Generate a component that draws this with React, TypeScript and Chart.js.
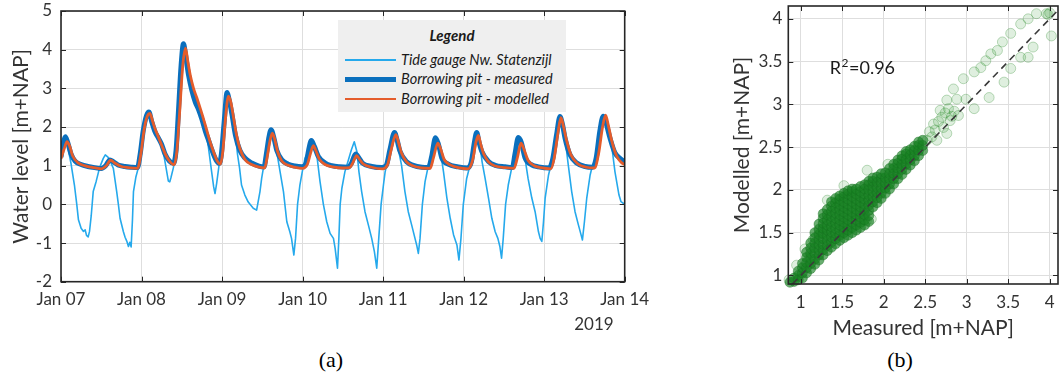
import React, { useEffect, useRef } from 'react';
import { Chart, registerables } from 'chart.js';

Chart.register(...registerables);

// ---------- Data: time series (hours since Jan 07 00:00, level m+NAP) ----------
const dayLabels = ['Jan 07', 'Jan 08', 'Jan 09', 'Jan 10', 'Jan 11', 'Jan 12', 'Jan 13', 'Jan 14'];
const yearLabel = '2019';
const seriesNames = ['Tide gauge Nw. Statenzijl', 'Borrowing pit - measured', 'Borrowing pit - modelled'];
const seriesColors = ['#25a9ec', '#0a6fbd', '#e45c2b'];
const seriesWidths = [1.6, 5, 2.8];

const tideGauge: [number, number][] = [
  [0, 1.22], [0.7, 1.6], [1.2, 1.75], [2, 1.5], [3, 1.05], [4, 0.5], [4.7, 0.0], [5.2, -0.4], [6, -0.62], [6.7, -0.7],
  [7.2, -0.66], [7.6, -0.8], [8.1, -0.84], [8.5, -0.7], [9, -0.3], [9.6, 0.33], [10.5, 0.6], [11.5, 0.95], [12.6, 1.19],
  [13.2, 1.28], [14, 1.22], [15, 1.05], [15.6, 0.93], [16.6, 0.33], [17.1, 0.0], [17.6, -0.36], [18.6, -0.71], [19.1, -0.85],
  [19.6, -0.95], [20.1, -1.09], [20.5, -0.98], [20.9, -1.1], [21.3, -0.4], [21.6, 0.33], [22.3, 0.7], [23, 0.93], [23.6, 1.3],
  [24.5, 1.9], [25.5, 2.3], [26.2, 2.39], [27, 2.15], [28, 1.88], [29, 1.72], [30, 1.5], [30.6, 1.3], [31.2, 1.0], [32, 0.6],
  [32.4, 0.58], [32.8, 0.7], [33.5, 0.95], [34.3, 1.4], [35, 2.4], [35.8, 3.6], [36.5, 4.15], [37.3, 3.75], [38, 3.35],
  [39, 2.95], [40, 2.65], [41, 2.45], [42, 2.2], [43, 1.9], [43.9, 1.5], [44.9, 0.84], [45.5, 0.45], [45.9, 0.28], [46.4, 0.55],
  [47.1, 1.01], [47.8, 1.3], [48.6, 2.1], [49.5, 2.89], [50, 2.75], [51, 2.3], [52, 1.78], [52.6, 1.3], [53.2, 0.95], [53.8, 0.5],
  [54.8, 0.24], [55.8, 0.06], [57.3, -0.1], [58.3, -0.15], [59.3, 0.33], [59.8, 0.67], [60.3, 0.93], [61.2, 1.3], [62, 1.75],
  [62.6, 1.93], [63.5, 1.7], [64.3, 1.36], [65.3, 0.84], [66.3, 0.33], [67.3, -0.45], [68.2, -0.71], [68.7, -0.88], [69.4, -1.31],
  [69.9, -0.88], [70.5, 0.0], [71.2, 0.5], [71.9, 0.84], [72.7, 1.19], [73.8, 1.4], [74.6, 1.65], [75.5, 1.5], [76.2, 1.3],
  [77.2, 0.59], [78.2, 0.0], [79.2, -0.45], [80.2, -0.75], [81.2, -0.88], [81.7, -1.14], [82.4, -1.65], [82.8, -0.9], [83.2, 0.0],
  [83.7, 0.41], [84.6, 0.84], [85.5, 1.1], [86.5, 1.4], [87.4, 1.62], [88.2, 1.36], [88.8, 0.84], [89.6, 0.33], [90.6, -0.19],
  [91.6, -0.53], [92.6, -0.88], [93.4, -1.22], [94.1, -1.65], [94.7, -0.88], [95.4, 0.0], [96.1, 0.5], [96.6, 0.84], [97.3, 1.1],
  [98, 1.4], [99.4, 1.86], [100.2, 1.6], [100.7, 1.36], [101.5, 1.01], [102.5, 0.33], [103.5, -0.19], [104.5, -0.53],
  [105.5, -0.88], [106, -1.05], [106.5, -1.27], [107, -0.88], [107.7, 0.0], [108.5, 0.59], [109.5, 1.01], [110.5, 1.25],
  [111.6, 1.72], [112.5, 1.55], [113.3, 1.25], [114, 0.84], [115, 0.17], [116, -0.36], [117, -0.79], [118, -1.05], [118.6, -1.44],
  [119.2, -0.88], [119.9, 0.0], [120.9, 0.67], [121.9, 1.01], [123.2, 1.6], [123.9, 1.86], [124.9, 1.5], [125.5, 1.1],
  [126.4, 0.67], [127.4, 0.17], [128.4, -0.36], [129.4, -0.71], [130.2, -0.88], [130.8, -1.09], [131.3, -1.39], [131.8, -0.88],
  [132.5, 0.0], [133.3, 0.5], [134.3, 0.93], [135.3, 1.3], [136.3, 1.73], [137.2, 1.6], [138.1, 1.3], [139.2, 0.67], [140.3, 0.17],
  [141.3, -0.19], [142.3, -0.71], [142.8, -0.88], [143.3, -0.96], [143.8, -0.45], [144.3, 0.17], [145.3, 0.76], [146, 1.01],
  [146.5, 1.15], [147.7, 1.8], [148.7, 2.27], [149.5, 2.05], [150.2, 1.72], [151.2, 1.01], [152.2, 0.33], [153.2, -0.19],
  [154.2, -0.53], [155, -0.79], [155.4, -0.92], [156, -0.45], [156.7, 0.17], [157.7, 0.76], [158.4, 1.01], [159.5, 1.2],
  [160.6, 1.9], [161.6, 2.28], [162.3, 2.15], [163.2, 1.85], [164.1, 1.53], [165.1, 0.84], [166.3, 0.24], [166.9, 0.07], [168, 0.0],
];

const pitMeasured: [number, number][] = [
  [0, 1.22], [0.7, 1.6], [1.3, 1.75], [2, 1.6], [3, 1.3], [4.2, 1.12], [6, 1.03], [8, 0.98], [10, 0.95], [12, 0.93],
  [13.3, 1.0], [14.6, 1.15], [15.6, 1.1], [17, 1.02], [19, 0.98], [21, 0.96], [22.8, 0.95], [23.6, 1.3], [24.5, 1.9],
  [25.5, 2.3], [26.2, 2.39], [27, 2.15], [28, 1.88], [29, 1.72], [30, 1.55], [31, 1.3], [32.3, 1.12], [33.5, 1.06],
  [34.3, 1.4], [35, 2.4], [35.8, 3.6], [36.5, 4.15], [37.3, 3.75], [38, 3.35], [39, 2.95], [40, 2.65], [41, 2.45],
  [42, 2.2], [43, 1.9], [44, 1.65], [45, 1.4], [46.2, 1.15], [47.2, 1.06], [47.8, 1.3], [48.6, 2.1], [49.5, 2.89],
  [50, 2.75], [51, 2.3], [52, 1.78], [53.3, 1.4], [54.8, 1.2], [56.8, 1.07], [59, 0.99], [60.5, 0.97], [61.2, 1.3],
  [62, 1.75], [62.6, 1.93], [63.5, 1.7], [64.3, 1.4], [65.8, 1.15], [67.7, 1.04], [69.7, 0.99], [71.7, 0.97], [73, 1.05],
  [73.8, 1.4], [74.6, 1.65], [75.5, 1.5], [76.7, 1.24], [78.7, 1.07], [80.7, 1.0], [83, 0.97], [85.5, 0.96], [86.5, 1.05],
  [87.8, 1.3], [88.8, 1.2], [89.8, 1.07], [92.6, 0.98], [95.6, 0.95], [97, 1.02], [98, 1.4], [99.4, 1.86], [100.2, 1.65],
  [101, 1.38], [103, 1.1], [105, 1.01], [107.5, 0.96], [109.5, 0.95], [110.5, 1.25], [111.6, 1.72], [112.5, 1.55],
  [113.5, 1.2], [115.4, 1.04], [118.4, 0.97], [121, 0.94], [122.3, 1.1], [123.2, 1.6], [123.9, 1.86], [124.6, 1.6],
  [125.4, 1.37], [127.4, 1.11], [129.4, 1.01], [132.3, 0.97], [134.5, 0.95], [135.3, 1.3], [136.3, 1.73], [137.2, 1.6],
  [138.3, 1.2], [140.3, 1.02], [142.3, 0.97], [145.5, 0.94], [146.5, 1.15], [147.7, 1.8], [148.7, 2.27], [149.5, 2.05],
  [150.2, 1.72], [151.7, 1.28], [153.7, 1.07], [156.2, 0.98], [158.5, 0.96], [159.5, 1.2], [160.6, 1.9], [161.6, 2.28],
  [162.3, 2.15], [163.6, 1.72], [165.1, 1.33], [166.6, 1.19], [168, 1.1],
];

const pitModelled: [number, number][] = [
  [0, 1.18], [1, 1.45], [1.8, 1.62], [2.6, 1.5], [3.5, 1.25], [5, 1.08], [7, 1.0], [9, 0.96], [12, 0.92], [13.5, 1.0],
  [14.8, 1.14], [16, 1.07], [18, 0.98], [20, 0.95], [22.8, 0.93], [23.8, 1.3], [24.8, 1.95], [25.8, 2.3], [26.5, 2.35],
  [27.3, 2.15], [28, 1.96], [29, 1.75], [30, 1.53], [31, 1.32], [32, 1.16], [33.7, 1.02], [34.5, 1.35], [35.3, 2.3],
  [36.3, 3.6], [37.1, 4.04], [37.8, 3.7], [38.5, 3.35], [39.5, 3.0], [40.5, 2.75], [41.5, 2.48], [42.5, 2.2], [43.5, 1.9],
  [44.5, 1.6], [45.5, 1.35], [46.5, 1.13], [47.5, 1.04], [48.2, 1.35], [49, 2.2], [49.9, 2.8], [50.6, 2.65], [51.5, 2.2],
  [52.3, 1.8], [53.3, 1.45], [54.8, 1.16], [56.8, 1.03], [59, 0.96], [60.7, 0.94], [61.5, 1.25], [62.3, 1.65], [63, 1.84],
  [63.8, 1.65], [64.5, 1.38], [65.8, 1.12], [67.7, 1.01], [69.7, 0.96], [72, 0.93], [73.5, 1.05], [74.3, 1.3], [75.2, 1.52],
  [76, 1.38], [77, 1.17], [78.7, 1.03], [81, 0.97], [84, 0.94], [86, 0.95], [87, 1.08], [88.1, 1.26], [89, 1.16], [90, 1.05],
  [92.6, 0.96], [95.8, 0.92], [97.3, 1.02], [98.5, 1.45], [99.8, 1.8], [100.6, 1.6], [101.4, 1.35], [103, 1.1], [105, 0.99],
  [107.5, 0.94], [110, 0.93], [111, 1.2], [112.3, 1.58], [113.2, 1.42], [114.2, 1.16], [116, 1.02], [118.4, 0.95],
  [121.3, 0.92], [122.7, 1.15], [123.7, 1.62], [124.4, 1.78], [125.1, 1.55], [126, 1.3], [127.4, 1.1], [129.4, 0.99],
  [132.3, 0.95], [135, 0.93], [136, 1.2], [137.1, 1.58], [138, 1.42], [139.2, 1.14], [141, 1.0], [143, 0.95], [146, 0.92],
  [147, 1.2], [148.2, 1.9], [149, 2.24], [149.8, 2.0], [150.6, 1.68], [152, 1.28], [154, 1.05], [156.5, 0.96], [159, 0.94],
  [160.2, 1.3], [161.4, 2.0], [162.3, 2.31], [163.1, 2.05], [164.2, 1.62], [165.6, 1.25], [167, 1.08], [168, 1.03],
];

// ---------- Data: scatter (measured, modelled) ----------
const scatterTicks = [1, 1.5, 2, 2.5, 3, 3.5, 4];
const oneToOne = [0.9, 4.12];
const rSquared = 0.96;

const scatterCore: [number, number][] = [
  [0.87, 0.92],
  [0.92, 0.93], [0.92, 0.97],
  [0.97, 0.95], [0.97, 1.0], [0.97, 1.05],
  [1.02, 0.97], [1.02, 1.03], [1.02, 1.09], [1.02, 1.14],
  [1.07, 1.03], [1.07, 1.09], [1.07, 1.15], [1.07, 1.21], [1.07, 1.27],
  [1.12, 1.08], [1.12, 1.14], [1.12, 1.2], [1.12, 1.26], [1.12, 1.32], [1.12, 1.38],
  [1.17, 1.13], [1.17, 1.19], [1.17, 1.26], [1.17, 1.32], [1.17, 1.38], [1.17, 1.44], [1.17, 1.5],
  [1.22, 1.18], [1.22, 1.24], [1.22, 1.3], [1.22, 1.36], [1.22, 1.42], [1.22, 1.48], [1.22, 1.54], [1.22, 1.6],
  [1.27, 1.24], [1.27, 1.3], [1.27, 1.36], [1.27, 1.43], [1.27, 1.49], [1.27, 1.55], [1.27, 1.61], [1.27, 1.67], [1.27, 1.72],
  [1.32, 1.29], [1.32, 1.35], [1.32, 1.41], [1.32, 1.47], [1.32, 1.53], [1.32, 1.59], [1.32, 1.65], [1.32, 1.71], [1.32, 1.77],
  [1.37, 1.33], [1.37, 1.39], [1.37, 1.45], [1.37, 1.51], [1.37, 1.57], [1.37, 1.63], [1.37, 1.69], [1.37, 1.75], [1.37, 1.81], [1.37, 1.86],
  [1.42, 1.37], [1.42, 1.43], [1.42, 1.49], [1.42, 1.55], [1.42, 1.61], [1.42, 1.67], [1.42, 1.73], [1.42, 1.79], [1.42, 1.85], [1.42, 1.9],
  [1.47, 1.41], [1.47, 1.47], [1.47, 1.53], [1.47, 1.59], [1.47, 1.65], [1.47, 1.71], [1.47, 1.77], [1.47, 1.83], [1.47, 1.89], [1.47, 1.93],
  [1.52, 1.44], [1.52, 1.5], [1.52, 1.56], [1.52, 1.62], [1.52, 1.68], [1.52, 1.74], [1.52, 1.8], [1.52, 1.86], [1.52, 1.92], [1.52, 1.96],
  [1.57, 1.47], [1.57, 1.53], [1.57, 1.59], [1.57, 1.65], [1.57, 1.71], [1.57, 1.77], [1.57, 1.83], [1.57, 1.89], [1.57, 1.95], [1.57, 1.99],
  [1.62, 1.5], [1.62, 1.56], [1.62, 1.62], [1.62, 1.68], [1.62, 1.74], [1.62, 1.8], [1.62, 1.86], [1.62, 1.92], [1.62, 1.98], [1.62, 2.01],
  [1.67, 1.53], [1.67, 1.59], [1.67, 1.65], [1.67, 1.71], [1.67, 1.77], [1.67, 1.83], [1.67, 1.89], [1.67, 1.95], [1.67, 2.01],
  [1.72, 1.56], [1.72, 1.62], [1.72, 1.68], [1.72, 1.74], [1.72, 1.8], [1.72, 1.86], [1.72, 1.92], [1.72, 1.98], [1.72, 2.04],
  [1.77, 1.59], [1.77, 1.65], [1.77, 1.71], [1.77, 1.77], [1.77, 1.83], [1.77, 1.89], [1.77, 1.95], [1.77, 2.01], [1.77, 2.06],
  [1.82, 1.63], [1.82, 1.7], [1.82, 1.76], [1.82, 1.82], [1.82, 1.88], [1.82, 1.94], [1.82, 2.0], [1.82, 2.06], [1.82, 2.1],
  [1.87, 1.8], [1.87, 1.86], [1.87, 1.92], [1.87, 1.98], [1.87, 2.04], [1.87, 2.1], [1.87, 2.14],
  [1.92, 1.85], [1.92, 1.91], [1.92, 1.97], [1.92, 2.03], [1.92, 2.09], [1.92, 2.15],
  [1.97, 1.9], [1.97, 1.96], [1.97, 2.02], [1.97, 2.08], [1.97, 2.14], [1.97, 2.19],
  [2.02, 1.96], [2.02, 2.02], [2.02, 2.08], [2.02, 2.14], [2.02, 2.2],
  [2.07, 2.01], [2.07, 2.07], [2.07, 2.13], [2.07, 2.19], [2.07, 2.25],
  [2.12, 2.07], [2.12, 2.13], [2.12, 2.19], [2.12, 2.25], [2.12, 2.3],
  [2.17, 2.13], [2.17, 2.19], [2.17, 2.25], [2.17, 2.31], [2.17, 2.35],
  [2.22, 2.18], [2.22, 2.24], [2.22, 2.3], [2.22, 2.36], [2.22, 2.4],
  [2.27, 2.24], [2.27, 2.3], [2.27, 2.36], [2.27, 2.42], [2.27, 2.45],
  [2.32, 2.29], [2.32, 2.35], [2.32, 2.41], [2.32, 2.47],
  [2.37, 2.34], [2.37, 2.4], [2.37, 2.46], [2.37, 2.51],
  [2.42, 2.4], [2.42, 2.46], [2.42, 2.52], [2.42, 2.56],
  [2.47, 2.46], [2.47, 2.52], [2.47, 2.58],
];

const scatterSparse: [number, number][] = [
  [2.52, 2.58], [2.55, 2.68], [2.58, 2.62], [2.6, 2.77], [2.62, 2.7], [2.64, 2.58], [2.66, 2.8], [2.68, 2.93],
  [2.7, 2.85], [2.72, 2.73], [2.74, 2.9], [2.76, 3.05], [2.76, 2.66], [2.78, 2.95], [2.8, 2.81], [2.82, 2.86],
  [2.84, 3.18], [2.85, 2.92], [2.88, 3.06], [2.9, 2.87], [2.96, 3.3], [2.99, 3.06], [3.09, 3.38], [3.09, 2.95],
  [3.17, 3.43], [3.23, 3.51], [3.27, 3.08], [3.29, 3.59], [3.37, 3.63], [3.43, 3.73], [3.45, 3.26], [3.53, 3.83],
  [3.53, 3.42], [3.65, 3.94], [3.65, 3.55], [3.74, 4.0], [3.74, 3.55], [3.8, 3.67], [3.84, 4.06], [3.96, 4.06],
  [3.98, 4.05], [4.0, 4.07], [4.02, 3.8],
  [1.8, 2.23], [1.32, 1.88], [1.52, 2.05], [1.05, 1.31], [1.79, 1.64], [1.1, 1.2], [0.95, 1.12], [1.25, 1.5],
  [1.85, 1.66], [2.05, 2.3], [1.15, 1.42], [0.86, 0.95],
];

// ---------- Styles ----------
const axisColor = '#262626';
const gridColor = '#dedede';
const textColor = '#333333';
const tickFont = { family: 'Lato', size: 17 };
const titleFont = { family: 'Lato', size: 21 };

Chart.defaults.font.family = 'Lato';
Chart.defaults.color = textColor;

const matlabBox = {
  id: 'matlabBox',
  afterDatasetsDraw(chart: any) {
    const { ctx, chartArea: a, scales } = chart;
    const L = 5;
    ctx.save();
    ctx.strokeStyle = axisColor;
    ctx.lineWidth = 1;
    scales.x.ticks.forEach((t: any) => {
      const px = Math.round(scales.x.getPixelForValue(t.value)) + 0.5;
      ctx.beginPath();
      ctx.moveTo(px, a.bottom); ctx.lineTo(px, a.bottom - L);
      ctx.moveTo(px, a.top); ctx.lineTo(px, a.top + L);
      ctx.stroke();
    });
    scales.y.ticks.forEach((t: any) => {
      const py = Math.round(scales.y.getPixelForValue(t.value)) + 0.5;
      ctx.beginPath();
      ctx.moveTo(a.left, py); ctx.lineTo(a.left + L, py);
      ctx.moveTo(a.right, py); ctx.lineTo(a.right - L, py);
      ctx.stroke();
    });
    ctx.lineWidth = 1.6;
    ctx.strokeRect(a.left, a.top, a.right - a.left, a.bottom - a.top);
    ctx.restore();
  },
};

const yearPlugin = {
  id: 'yearLabel',
  afterDraw(chart: any) {
    const { ctx, chartArea: a } = chart;
    ctx.save();
    ctx.font = `${tickFont.size}px Lato`;
    ctx.fillStyle = textColor;
    ctx.textAlign = 'right';
    ctx.textBaseline = 'alphabetic';
    ctx.fillText(yearLabel, a.right - 11, a.bottom + 48);
    ctx.restore();
  },
};

const r2Plugin = {
  id: 'r2Label',
  afterDraw(chart: any) {
    const { ctx, scales } = chart;
    const x = scales.x.getPixelForValue(1.35);
    const y = scales.y.getPixelForValue(3.36);
    ctx.save();
    ctx.fillStyle = '#1a1a1a';
    ctx.textBaseline = 'alphabetic';
    ctx.textAlign = 'left';
    ctx.font = '18px Lato';
    ctx.fillText('R', x, y);
    const w1 = ctx.measureText('R').width;
    ctx.font = '12px Lato';
    ctx.fillText('2', x + w1 + 0.5, y - 7);
    const w2 = ctx.measureText('2').width;
    ctx.font = '18px Lato';
    ctx.fillText('=' + rSquared.toFixed(2), x + w1 + w2 + 1, y);
    ctx.restore();
  },
};

function TimeSeriesChart() {
  const ref = useRef<HTMLCanvasElement>(null);
  useEffect(() => {
    const data = [tideGauge, pitMeasured, pitModelled];
    const chart = new Chart(ref.current!, {
      type: 'line',
      data: {
        datasets: data.map((d, i) => ({
          label: seriesNames[i],
          data: d.map(([x, y]) => ({ x, y })),
          borderColor: seriesColors[i],
          backgroundColor: seriesColors[i],
          borderWidth: seriesWidths[i],
          pointRadius: 0,
          order: 3 - i,
          cubicInterpolationMode: i === 0 ? 'default' : 'monotone',
          tension: i === 0 ? 0 : 0.4,
          borderJoinStyle: 'round',
        })),
      } as any,
      options: {
        animation: false,
        responsive: false,
        maintainAspectRatio: false,
        layout: { padding: { top: 11, right: 35.3, left: 0, bottom: 0 } },
        plugins: { legend: { display: false }, tooltip: { enabled: false } },
        scales: {
          x: {
            type: 'linear',
            min: 0,
            max: 168,
            ticks: {
              stepSize: 24,
              autoSkip: false,
              maxRotation: 0,
              padding: 8,
              font: tickFont,
              color: textColor,
              callback: (v: any) => dayLabels[Math.round(Number(v) / 24)],
            },
            grid: { color: gridColor, drawTicks: false },
            border: { display: false },
            afterFit: (s: any) => { s.height = 63.3; s.paddingLeft = 0; s.paddingRight = 0; },
          },
          y: {
            min: -2,
            max: 5,
            ticks: { stepSize: 1, padding: 9, font: tickFont, color: textColor },
            grid: { color: gridColor, drawTicks: false },
            border: { display: false },
            title: { display: true, text: 'Water level [m+NAP]', font: titleFont, color: textColor, padding: { top: 9, bottom: 0 } },
            afterFit: (s: any) => { s.width = 61; s.paddingTop = 0; s.paddingBottom = 0; },
          },
        },
      } as any,
      plugins: [matlabBox, yearPlugin],
    });
    return () => chart.destroy();
  }, []);
  return <canvas ref={ref} width={660} height={345} style={{ position: 'absolute', left: 0, top: 0, width: 660, height: 345 }} />;
}

function ScatterChart() {
  const ref = useRef<HTMLCanvasElement>(null);
  useEffect(() => {
    const chart = new Chart(ref.current!, {
      type: 'scatter',
      data: {
        datasets: [
          {
            type: 'line',
            label: '1:1',
            data: oneToOne.map((v) => ({ x: v, y: v })),
            borderColor: '#3a3a3a',
            borderWidth: 1.6,
            borderDash: [7, 5],
            pointRadius: 0,
            order: 0,
          },
          {
            label: 'Measured vs modelled',
            data: scatterCore.map(([x, y]) => ({ x, y })),
            backgroundColor: 'rgba(25,130,35,0.65)',
            borderColor: 'rgba(20,110,30,0.4)',
            borderWidth: 1,
            pointRadius: 5,
            clip: false,
            order: 1,
          },
          {
            label: 'Measured vs modelled (sparse)',
            data: scatterSparse.map(([x, y]) => ({ x, y })),
            backgroundColor: 'rgba(40,150,40,0.15)',
            borderColor: 'rgba(30,130,30,0.28)',
            borderWidth: 1,
            pointRadius: 5,
            clip: false,
            order: 2,
          },
        ],
      } as any,
      options: {
        animation: false,
        responsive: false,
        maintainAspectRatio: false,
        layout: { padding: { top: 6, right: 0, left: 0, bottom: 0 } },
        plugins: { legend: { display: false }, tooltip: { enabled: false } },
        scales: {
          x: {
            type: 'linear',
            min: 0.85,
            max: 4.1,
            afterBuildTicks: (s: any) => { s.ticks = scatterTicks.map((v) => ({ value: v })); },
            ticks: { padding: 8, font: tickFont, color: textColor, maxRotation: 0, autoSkip: false, callback: (v: any) => String(v) },
            grid: { color: gridColor, drawTicks: false },
            border: { display: false },
            title: { display: true, text: 'Measured [m+NAP]', font: titleFont, color: textColor, padding: { top: 0, bottom: 4 } },
            afterFit: (s: any) => { s.height = 61; s.paddingLeft = 0; s.paddingRight = 0; },
          },
          y: {
            min: 0.9,
            max: 4.15,
            afterBuildTicks: (s: any) => { s.ticks = scatterTicks.map((v) => ({ value: v })); },
            ticks: { padding: 6, font: tickFont, color: textColor, callback: (v: any) => String(v) },
            grid: { color: gridColor, drawTicks: false },
            border: { display: false },
            title: { display: true, text: 'Modelled [m+NAP]', font: titleFont, color: textColor, padding: { top: 10, bottom: 0 } },
            afterFit: (s: any) => { s.width = 68.3; s.paddingTop = 0; s.paddingBottom = 0; },
          },
        },
      } as any,
      plugins: [matlabBox, r2Plugin],
    });
    return () => chart.destroy();
  }, []);
  return <canvas ref={ref} width={344} height={345} style={{ position: 'absolute', left: 720, top: 0, width: 344, height: 345 }} />;
}

function Legend() {
  const rowTops = [40, 59, 79];
  return (
    <div style={{ position: 'absolute', left: 338, top: 20, width: 228, height: 92, background: '#efefef', fontFamily: 'Lato', color: '#1a1a1a' }}>
      <div style={{ position: 'absolute', left: 0, top: 6, width: '100%', textAlign: 'center', fontWeight: 'bold', fontStyle: 'italic', fontSize: 15, lineHeight: '18px' }}>
        Legend
      </div>
      {seriesNames.map((name, i) => (
        <div key={name}>
          <div style={{ position: 'absolute', left: 7, top: rowTops[i] - seriesWidths[i] / 2, width: 51, height: seriesWidths[i], background: seriesColors[i] }} />
          <div style={{ position: 'absolute', left: 63, top: rowTops[i] - 9, fontStyle: 'italic', fontSize: 14.5, lineHeight: '18px', whiteSpace: 'nowrap' }}>
            {name}
          </div>
        </div>
      ))}
    </div>
  );
}

export default function App() {
  return (
    <div style={{ position: 'fixed', left: 0, top: 0, width: 1062, height: 384, overflow: 'hidden', background: '#ffffff' }}>
      <TimeSeriesChart />
      <ScatterChart />
      <Legend />
      <div style={{ position: 'absolute', left: 281, width: 100, top: 349, textAlign: 'center', fontFamily: '"Liberation Serif", serif', fontSize: 22, lineHeight: '22px', color: '#000' }}>(a)</div>
      <div style={{ position: 'absolute', left: 850, width: 100, top: 349, textAlign: 'center', fontFamily: '"Liberation Serif", serif', fontSize: 22, lineHeight: '22px', color: '#000' }}>(b)</div>
    </div>
  );
}
